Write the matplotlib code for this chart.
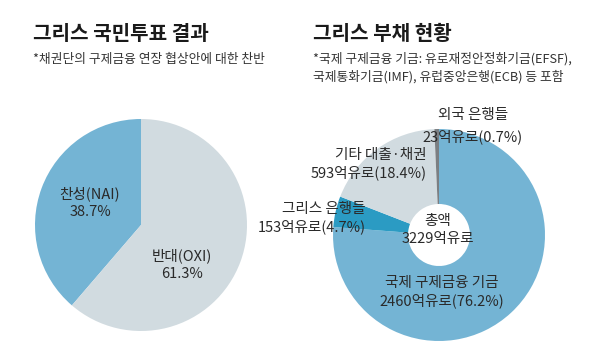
import matplotlib.pyplot as plt

plt.rcParams['font.family'] = ['Noto Sans CJK KR', 'DejaVu Sans']

# left chart: referendum result
vote_labels = ['찬성(NAI)', '반대(OXI)']
vote_shares = [38.7, 61.3]
vote_colors = ['#74b4d4', '#d1dbe0']

# right chart: Greek debt
debt_labels = ['국제 구제금융 기금', '그리스 은행들', '기타 대출·채권', '외국 은행들']
debt_amounts = [2460, 153, 593, 23]
debt_shares = [76.2, 4.7, 18.4, 0.7]
debt_colors = ['#74b4d4', '#2b9bc3', '#d1dbe0', '#7b7f83']
debt_total = 3229

W, H = 600, 361
fig = plt.figure(figsize=(W / 100, H / 100), dpi=100)
ax = fig.add_axes([0, 0, 1, 1])

def Y(y):
    return H - y

txt = '#2a2a2a'
fs = 10.5

ax.pie(vote_shares, colors=vote_colors, startangle=90, counterclock=True,
       center=(141, Y(225)), radius=106, wedgeprops=dict(linewidth=0))
ax.pie(debt_shares, colors=debt_colors, startangle=90, counterclock=False,
       center=(439, Y(235)), radius=106,
       wedgeprops=dict(width=106 - 31, linewidth=0))

ax.set_xlim(0, W)
ax.set_ylim(0, H)
ax.set_aspect('equal')
ax.axis('off')

# titles
ax.text(33, Y(33), '그리스 국민투표 결과', fontsize=14.5, fontweight='bold',
        color='#1a1a1a', va='center')
ax.text(33, Y(59), '*채권단의 구제금융 연장 협상안에 대한 찬반', fontsize=9.2,
        color='#333333', va='center')
ax.text(313, Y(33), '그리스 부채 현황', fontsize=14.5, fontweight='bold',
        color='#1a1a1a', va='center')
ax.text(313, Y(59), '*국제 구제금융 기금: 유로재정안정화기금(EFSF),', fontsize=9.2,
        color='#333333', va='center')
ax.text(313, Y(77), '국제통화기금(IMF), 유럽중앙은행(ECB) 등 포함', fontsize=9.2,
        color='#333333', va='center')

# left labels
ax.text(90, Y(203), f'{vote_labels[0]}\n{vote_shares[0]}%', fontsize=fs,
        color=txt, ha='center', va='center', linespacing=1.35)
ax.text(182, Y(265), f'{vote_labels[1]}\n{vote_shares[1]}%', fontsize=fs,
        color=txt, ha='center', va='center', linespacing=1.35)

# right labels
ax.text(442, Y(292), f'{debt_labels[0]}\n{debt_amounts[0]}억유로({debt_shares[0]}%)',
        fontsize=fs, color=txt, ha='center', va='center', linespacing=1.35)
ax.text(366, Y(218), f'{debt_labels[1]}\n{debt_amounts[1]}억유로({debt_shares[1]}%)',
        fontsize=fs, color=txt, ha='right', va='center', linespacing=1.35)
ax.text(427, Y(164), f'{debt_labels[2]}\n{debt_amounts[2]}억유로({debt_shares[2]}%)',
        fontsize=fs, color=txt, ha='right', va='center', linespacing=1.35)
ax.text(473, Y(115), debt_labels[3], fontsize=fs, color=txt, ha='center', va='center')
ax.text(473, Y(137), f'{debt_amounts[3]}억유로({debt_shares[3]}%)', fontsize=fs,
        color=txt, ha='center', va='center')
ax.text(438, Y(230), f'총액\n{debt_total}억유로', fontsize=fs, color=txt,
        ha='center', va='center', linespacing=1.35)

fig.savefig('out.png', dpi=100)
